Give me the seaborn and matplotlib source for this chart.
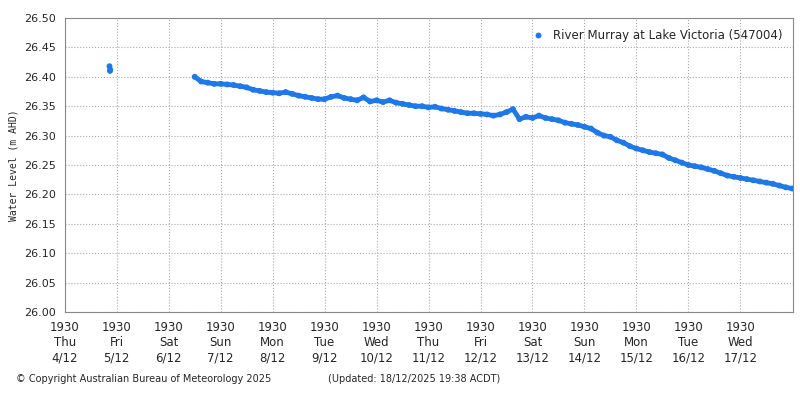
import numpy as np
import pandas as pd
import matplotlib
matplotlib.use('Agg')
from matplotlib import pyplot as plt
import seaborn as sns

sns.set_style('white')
plt.rcParams['font.family'] = ['DejaVu Sans']

# %% Data (3-hourly readings, days after Thu 4/12 19:30)
early_days = [0.86, 0.87, 0.875]
early_vals = [26.418, 26.410, 26.412]
start_day = 2.5
step = 0.125
levels = [
    26.400, 26.392, 26.390, 26.388, 26.388, 26.387, 26.386, 26.384,
    26.382, 26.378, 26.376, 26.374, 26.373, 26.372, 26.374, 26.371,
    26.368, 26.366, 26.364, 26.362, 26.362, 26.366, 26.368, 26.364,
    26.362, 26.360, 26.365, 26.358, 26.360, 26.357, 26.360, 26.356,
    26.354, 26.352, 26.350, 26.350, 26.348, 26.349, 26.346, 26.344,
    26.342, 26.340, 26.338, 26.338, 26.337, 26.336, 26.334, 26.336,
    26.340, 26.345, 26.328, 26.332, 26.330, 26.334, 26.330, 26.328,
    26.326, 26.322, 26.320, 26.318, 26.315, 26.312, 26.305, 26.300,
    26.298, 26.292, 26.288, 26.282, 26.278, 26.275, 26.272, 26.270,
    26.268, 26.262, 26.258, 26.254, 26.250, 26.248, 26.246, 26.243,
    26.240, 26.236, 26.232, 26.230, 26.228, 26.226, 26.224, 26.222,
    26.220, 26.218, 26.215, 26.212, 26.210,
]
tick_days = ['Thu', 'Fri', 'Sat', 'Sun', 'Mon', 'Tue', 'Wed',
             'Thu', 'Fri', 'Sat', 'Sun', 'Mon', 'Tue', 'Wed']
tick_dates = ['4/12', '5/12', '6/12', '7/12', '8/12', '9/12', '10/12',
              '11/12', '12/12', '13/12', '14/12', '15/12', '16/12', '17/12']

days = early_days + [start_day + i * step for i in range(len(levels))]
df = pd.DataFrame({'day': days, 'level': early_vals + levels})
main = df.iloc[len(early_days):]

# %% Plot
blue = '#1f78e8'
fig = plt.figure(figsize=(8, 4), dpi=100)
ax = fig.add_axes([0.081, 0.22, 0.91, 0.735])
sns.lineplot(data=main, x='day', y='level', ax=ax, color=blue, linewidth=3.5)
sns.scatterplot(data=df, x='day', y='level', ax=ax, color=blue,
                s=18, edgecolor='none', label='River Murray at Lake Victoria (547004)')
ax.set_xlim(0, 14.01)
ax.set_ylim(26.0, 26.5)
ax.set_yticks(np.arange(26.0, 26.501, 0.05))
ax.set_yticklabels(['%.2f' % v for v in np.arange(26.0, 26.501, 0.05)], fontsize=8)
ax.set_xticks(range(len(tick_days)))
ax.set_xticklabels(['1930\n%s\n%s' % (d, t) for d, t in zip(tick_days, tick_dates)],
                   fontsize=8.5)
ax.set_xlabel('')
ax.set_ylabel('Water Level (m AHD)', family='monospace', fontsize=7)
ax.grid(True, linestyle=':', color='#aaaaaa', linewidth=0.8)
for s in ax.spines.values():
    s.set_color('#888888')
ax.tick_params(length=3, color='#888888')
leg = ax.legend(loc='upper right', frameon=False, fontsize=8.5,
                handletextpad=0.2, markerscale=1.0)
fig.text(0.02, 0.045, '© Copyright Australian Bureau of Meteorology 2025', fontsize=7)
fig.text(0.41, 0.045, '(Updated: 18/12/2025 19:38 ACDT)', fontsize=7)
fig.savefig('out.png', dpi=100)
